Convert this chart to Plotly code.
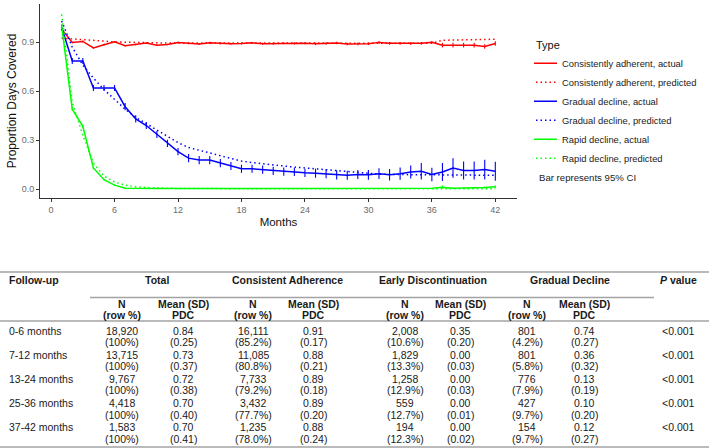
import plotly.graph_objects as go

W, H = 709, 448

months = list(range(1, 43))

# Consistently adherent
ca_actual = [0.980, 0.898, 0.905, 0.865, 0.885, 0.902, 0.878, 0.885, 0.895, 0.882, 0.886, 0.898,
             0.893, 0.889, 0.897, 0.892, 0.891, 0.892, 0.896, 0.890, 0.891, 0.894, 0.892, 0.893,
             0.890, 0.892, 0.895, 0.889, 0.890, 0.891, 0.899, 0.893, 0.893, 0.891, 0.893, 0.900,
             0.882, 0.882, 0.882, 0.882, 0.874, 0.892]
ca_actual_ci = [0.005, 0.005, 0.005, 0.005, 0.005, 0.005, 0.005, 0.005, 0.005, 0.005, 0.005, 0.005,
                0.006, 0.006, 0.006, 0.006, 0.006, 0.006, 0.006, 0.006, 0.006, 0.006, 0.006, 0.006,
                0.008, 0.008, 0.008, 0.008, 0.008, 0.008, 0.008, 0.008, 0.008, 0.008, 0.008, 0.008,
                0.014, 0.014, 0.014, 0.014, 0.014, 0.014]
ca_pred = [0.925, 0.920, 0.915, 0.910, 0.905, 0.902, 0.900, 0.898, 0.897, 0.896, 0.895, 0.895,
           0.895, 0.895, 0.894, 0.894, 0.894, 0.894, 0.894, 0.894, 0.894, 0.894, 0.894, 0.894,
           0.894, 0.894, 0.894, 0.894, 0.894, 0.894, 0.894, 0.894, 0.894, 0.894, 0.894, 0.894,
           0.912, 0.913, 0.914, 0.915, 0.916, 0.918]

# Gradual decline
gd_actual = [0.990, 0.785, 0.785, 0.620, 0.620, 0.620, 0.505, 0.430, 0.390, 0.335, 0.280, 0.230,
             0.190, 0.178, 0.178, 0.160, 0.142, 0.125, 0.125, 0.120, 0.112, 0.108, 0.105, 0.100,
             0.098, 0.095, 0.088, 0.085, 0.090, 0.088, 0.095, 0.088, 0.095, 0.105, 0.110, 0.090,
             0.105, 0.130, 0.115, 0.115, 0.120, 0.110]
gd_actual_ci = [0.018, 0.018, 0.018, 0.018, 0.018, 0.018, 0.022, 0.022, 0.022, 0.022, 0.022, 0.022,
                0.025, 0.025, 0.025, 0.025, 0.025, 0.025, 0.025, 0.025, 0.025, 0.025, 0.025, 0.025,
                0.028, 0.028, 0.028, 0.028, 0.028, 0.030, 0.033, 0.035, 0.038, 0.040, 0.050, 0.042,
                0.055, 0.060, 0.055, 0.055, 0.060, 0.058]
gd_pred = [1.030, 0.870, 0.760, 0.680, 0.610, 0.550, 0.490, 0.440, 0.400, 0.360, 0.320, 0.285,
           0.255, 0.240, 0.222, 0.205, 0.190, 0.172, 0.163, 0.155, 0.148, 0.141, 0.135, 0.130,
           0.124, 0.118, 0.112, 0.106, 0.100, 0.095, 0.092, 0.090, 0.089, 0.088, 0.087, 0.087,
           0.087, 0.087, 0.086, 0.086, 0.086, 0.086]

# Rapid decline
rd_actual = [1.000, 0.490, 0.385, 0.130, 0.058, 0.025, 0.006, 0.004, 0.004, 0.004, 0.004, 0.004,
             0.004, 0.004, 0.005, 0.004, 0.004, 0.004, 0.005, 0.004, 0.004, 0.004, 0.004, 0.005,
             0.004, 0.004, 0.004, 0.004, 0.004, 0.004, 0.004, 0.004, 0.004, 0.004, 0.005, 0.005,
             0.012, 0.006, 0.007, 0.008, 0.010, 0.015]
rd_actual_ci = [0.004, 0.010, 0.010, 0.008, 0.005, 0.004, 0.002, 0.002, 0.002, 0.002, 0.002, 0.002,
                0.002, 0.002, 0.002, 0.002, 0.002, 0.002, 0.002, 0.002, 0.002, 0.002, 0.002, 0.002,
                0.002, 0.002, 0.002, 0.002, 0.002, 0.002, 0.002, 0.002, 0.002, 0.002, 0.002, 0.002,
                0.010, 0.004, 0.004, 0.005, 0.006, 0.008]
rd_pred = [1.070, 0.530, 0.330, 0.160, 0.080, 0.045, 0.025, 0.015, 0.010, 0.007, 0.005, 0.004,
           0.004, 0.003, 0.003, 0.003, 0.003, 0.003, 0.003, 0.003, 0.003, 0.003, 0.003, 0.003,
           0.003, 0.003, 0.003, 0.003, 0.003, 0.003, 0.003, 0.003, 0.003, 0.003, 0.003, 0.003,
           0.003, 0.003, 0.003, 0.003, 0.003, 0.003]

x_ticks = [0, 6, 12, 18, 24, 30, 36, 42]
y_ticks = [0.0, 0.3, 0.6, 0.9]

# table data
periods = ["0-6 months", "7-12 months", "13-24 months", "25-36 months", "37-42 months"]
total_n = [18920, 13715, 9767, 4418, 1583]
total_pct = [100, 100, 100, 100, 100]
total_mean = [0.84, 0.73, 0.72, 0.70, 0.70]
total_sd = [0.25, 0.37, 0.38, 0.40, 0.41]
cons_n = [16111, 11085, 7733, 3432, 1235]
cons_pct = [85.2, 80.8, 79.2, 77.7, 78.0]
cons_mean = [0.91, 0.88, 0.89, 0.89, 0.88]
cons_sd = [0.17, 0.21, 0.18, 0.20, 0.24]
early_n = [2008, 1829, 1258, 559, 194]
early_pct = [10.6, 13.3, 12.9, 12.7, 12.3]
early_mean = [0.35, 0.00, 0.00, 0.00, 0.00]
early_sd = [0.20, 0.03, 0.03, 0.01, 0.02]
grad_n = [801, 801, 776, 427, 154]
grad_pct = [4.2, 5.8, 7.9, 9.7, 9.7]
grad_mean = [0.74, 0.36, 0.13, 0.10, 0.12]
grad_sd = [0.27, 0.32, 0.19, 0.20, 0.27]
p_values = ["<0.001", "<0.001", "<0.001", "<0.001", "<0.001"]
groups = ["Total", "Consistent Adherence", "Early Discontinuation", "Gradual Decline"]


def px(x):
    return x / W


def py(y):
    return 1 - y / H


FONT = "Liberation Sans, Arial, Helvetica, sans-serif"
DOT = "1.5px,3px"

fig = go.Figure()

series = [
    ("Consistently adherent, actual", ca_actual, ca_actual_ci, "#FF0000", "solid"),
    ("Consistently adherent, predicted", ca_pred, None, "#FF0000", DOT),
    ("Gradual decline, actual", gd_actual, gd_actual_ci, "#0000FF", "solid"),
    ("Gradual decline, predicted", gd_pred, None, "#0000FF", DOT),
    ("Rapid decline, actual", rd_actual, rd_actual_ci, "#00FF00", "solid"),
    ("Rapid decline, predicted", rd_pred, None, "#00FF00", DOT),
]
for name, ys, ci, col, dash in series:
    err = None
    if ci is not None:
        err = dict(type="data", array=ci, visible=True, width=0, thickness=1.1, color=col)
    fig.add_trace(go.Scatter(
        x=months, y=ys, name=name, mode="lines",
        line=dict(color=col, width=1.5, dash=dash),
        error_y=err,
    ))

fig.update_layout(
    width=W, height=H,
    margin=dict(l=0, r=0, t=0, b=0),
    paper_bgcolor="white", plot_bgcolor="white",
    font=dict(family=FONT, color="#222222"),
    showlegend=True,
    legend=dict(
        x=px(534), y=py(34.5), xanchor="left", yanchor="top",
        title=dict(text="Type", font=dict(size=11, color="#111111")),
        font=dict(size=9.4, color="#222222"),
        bgcolor="rgba(0,0,0,0)", itemwidth=30, tracegroupgap=0, indentation=-12,
    ),
    xaxis=dict(
        domain=[px(40), px(517)], range=[-1.05, 44.05],
        tickvals=x_ticks, ticks="outside", ticklen=3, tickcolor="#333333",
        showline=True, linecolor="#333333", linewidth=1, showgrid=False, zeroline=False,
        tickfont=dict(size=9, color="#6b6b6b"),
        title=dict(text="Months", font=dict(size=11.5, color="#111111"), standoff=4),
    ),
    yaxis=dict(
        domain=[py(198), py(4)], range=[-0.054, 1.134],
        tickvals=y_ticks, tickformat=".1f", ticks="outside", ticklen=3, tickcolor="#333333",
        showline=True, linecolor="#333333", linewidth=1, showgrid=False, zeroline=False,
        tickfont=dict(size=9, color="#6b6b6b"),
        title=dict(text="Proportion Days Covered", font=dict(size=12, color="#111111"), standoff=2),
    ),
)

fig.add_annotation(
    x=px(537), y=py(177), xref="paper", yref="paper", xanchor="left", yanchor="middle",
    text="Bar represents 95% CI", showarrow=False, font=dict(size=9.6, color="#222222"),
)

# table
LINE = "#a3a3a3"
for y0, xa, xb in [(272, 0, 709), (297.5, 90, 654), (321, 0, 709), (447, 0, 709)]:
    fig.add_shape(type="line", xref="paper", yref="paper", x0=px(xa), x1=px(xb),
                  y0=py(y0), y1=py(y0), line=dict(color=LINE, width=1.5))

TS = 10.5
col_x = [122, 183, 253, 313, 405, 460, 527, 584]
group_x = [157, 287, 433, 570]
p_x = 678


def txt(x, y, s, bold=False, anchor="center"):
    if bold:
        s = "<b>" + s + "</b>"
    fig.add_annotation(x=px(x), y=py(y), xref="paper", yref="paper", xanchor=anchor,
                       yanchor="middle", text=s, showarrow=False,
                       font=dict(size=TS, color="#1a1a1a", family=FONT))


txt(7, 280, "Follow-up", bold=True, anchor="left")
for g, gx in zip(groups, group_x):
    txt(gx, 280, g, bold=True)
txt(p_x, 280, "<i>P</i> value", bold=True)
for i, cx in enumerate(col_x):
    if i % 2 == 0:
        txt(cx, 303.5, "N", bold=True)
        txt(cx, 314.5, "(row %)", bold=True)
    else:
        txt(cx, 303.5, "Mean (SD)", bold=True)
        txt(cx, 314.5, "PDC", bold=True)


def pct(v):
    return "(100%)" if v == 100 else f"({v:.1f}%)"


blocks = [(total_n, total_pct, total_mean, total_sd),
          (cons_n, cons_pct, cons_mean, cons_sd),
          (early_n, early_pct, early_mean, early_sd),
          (grad_n, grad_pct, grad_mean, grad_sd)]
for r, period in enumerate(periods):
    y1 = 330.5 + r * 24.2
    y2 = y1 + 11.5
    txt(7, y1, period, anchor="left")
    for b, (ns, ps, ms, ss) in enumerate(blocks):
        txt(col_x[2 * b], y1, f"{ns[r]:,}")
        txt(col_x[2 * b], y2, pct(ps[r]))
        txt(col_x[2 * b + 1], y1, f"{ms[r]:.2f}")
        txt(col_x[2 * b + 1], y2, f"({ss[r]:.2f})")
    txt(p_x, y1, p_values[r])

fig.write_html("out.html", config={"displayModeBar": False},
               post_script="document.body.style.margin='0px';")
